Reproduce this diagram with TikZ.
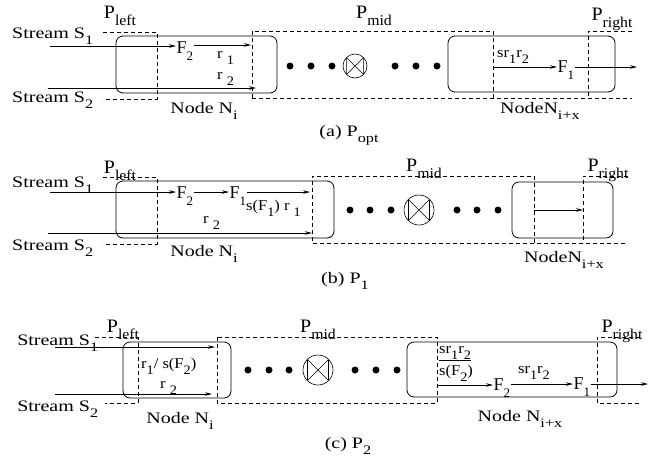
\documentclass[tikz,border=0pt]{standalone}
\usepackage{fontspec}
\setmainfont{Liberation Serif}
\usepackage{tikz}
\usetikzlibrary{arrows.meta, fit, calc}
\newcommand{\subx}[2][13]{\raisebox{-0.4em}{\fontsize{#1}{#1}\selectfont #2}}
\tikzset{
  txt/.style={font=\fontsize{16}{18}\selectfont, xscale=1.25, inner sep=0pt},
  plabel/.style={font=\fontsize{19}{21}\selectfont, xscale=1.05, inner sep=0pt},
  lbl/.style={font=\fontsize{15}{17}\selectfont, xscale=1.1, inner sep=0pt},
  fvar/.style={font=\fontsize{18}{20}\selectfont, inner sep=0.5pt},
  nodebox/.style={draw, rounded corners=7pt, line width=0.8pt, inner sep=0pt},
  region/.style={line width=0.6pt, dash pattern=on 4pt off 3pt},
  arrow/.style={-{Stealth[length=7pt,width=3.5pt]}, line width=0.6pt},
  dot/.style={circle, fill, inner sep=0pt, minimum size=7pt},
  joinop/.style={circle, draw, line width=0.6pt, inner sep=0pt,
    path picture={
      \draw[line width=0.6pt]
        ($(path picture bounding box.north west)!0.15!(path picture bounding box.south east)$)
        -- ($(path picture bounding box.north west)!0.85!(path picture bounding box.south east)$)
        -- ($(path picture bounding box.south west)!0.85!(path picture bounding box.north east)$)
        -- ($(path picture bounding box.south west)!0.15!(path picture bounding box.north east)$)
        -- cycle;
    }},
}

\begin{document}
\begin{tikzpicture}[x=1pt, y=-1pt]
  \useasboundingbox (0,0) rectangle (663,464);

  % (a) P_opt
  \node[nodebox, fit={(116,36) (277,93)}] (a-ni) {};
  \node[nodebox, fit={(448,36) (615,92)}] (a-nx) {};
  \draw[region] (103,32) -- (157,32) -- (157,99) -- (103,99);
  \draw[region] (252,98) -- (252,31) -- (493,31) -- (493,98);
  \draw[region] (252,98) -- (632,98);
  \draw[region] (632,31) -- (588,31) -- (588,98);

  \foreach \x in {290,311,332,395,416,437}
    \node[dot] (a-dot-\x) at (\x,66) {};
  \node[joinop, minimum size=24pt] (a-join) at (355,66) {};

  \node[txt, anchor=base west] (a-s1) at (12,38) {Stream S\subx{1}};
  \node[txt, anchor=base west] (a-s2) at (12,102) {Stream S\subx{2}};
  \node[plabel, anchor=base] (a-pl) at (120,18) {P\subx[15]{left}};
  \node[plabel, anchor=base] (a-pm) at (374,18) {P\subx[15]{mid}};
  \node[plabel, anchor=base] (a-pr) at (612,20) {P\subx[15]{right}};
  \node[txt, anchor=base] (a-nit) at (204,113) {Node N\subx{i}};
  \node[txt, anchor=base] (a-nxt) at (540,113) {NodeN\subx{i+x}};
  \node[txt, anchor=base] (a-cap) at (349,136) {(a) P\subx{opt}};

  \node[fvar, anchor=base west] (a-f2) at (176,53) {F\subx{2}};
  \node[lbl, anchor=base west] (a-r1) at (217,58) {r \subx{1}};
  \node[lbl, anchor=base west] (a-r2) at (217,79) {r \subx{2}};
  \node[lbl, anchor=base west] (a-sr) at (497,57) {sr\subx{1}r\subx{2}};
  \node[fvar, anchor=base west] (a-f1) at (557,72) {F\subx{1}};

  \coordinate (a-in1) at (50,46);
  \coordinate (a-in2) at (48,88);
  \coordinate (a-end1) at (251,45);
  \coordinate (a-end2) at (256,88);
  \coordinate (a-mid) at (493,67);
  \coordinate (a-out) at (637,67);
  \draw[arrow] (a-in1) -- (a-in1 -| a-f2.west);
  \draw[arrow] (a-f2.east |- a-end1) -- (a-end1);
  \draw[arrow] (a-in2) -- (a-end2);
  \draw[arrow] (a-mid) -- (a-mid -| a-f1.west);
  \draw[arrow] (a-f1.east |- a-out) -- (a-out);

  % (b) P_1
  \node[nodebox, fit={(116,181) (334,238)}] (b-ni) {};
  \node[nodebox, fit={(512,182) (613,238)}] (b-nx) {};
  \draw[region] (103,177) -- (157,177) -- (157,244) -- (103,244);
  \draw[region] (534,243) -- (534,176) -- (312,176) -- (312,243) -- (628,243);
  \draw[region] (628,176) -- (583,176) -- (583,243);

  \foreach \x in {350,370,391,457,477,498}
    \node[dot] (b-dot-\x) at (\x,210) {};
  \node[joinop, minimum size=30pt] (b-join) at (419,210) {};

  \node[txt, anchor=base west] (b-s1) at (12,187) {Stream S\subx{1}};
  \node[txt, anchor=base west] (b-s2) at (12,250) {Stream S\subx{2}};
  \node[plabel, anchor=base] (b-pl) at (120,173) {P\subx[15]{left}};
  \node[plabel, anchor=base] (b-pm) at (424,171) {P\subx[15]{mid}};
  \node[plabel, anchor=base] (b-pr) at (608,171) {P\subx[15]{right}};
  \node[txt, anchor=base] (b-nit) at (204,256) {Node N\subx{i}};
  \node[txt, anchor=base] (b-nxt) at (564,262) {NodeN\subx{i+x}};
  \node[txt, anchor=base] (b-cap) at (345,283) {(b) P\subx{1}};

  \node[fvar, anchor=base west] (b-f2) at (176,198) {F\subx{2}};
  \node[fvar, anchor=base west] (b-f1) at (229,198) {F\subx{1}};
  \node[lbl, anchor=base west] (b-sf) at (246,210) {s(F\subx{1}) r \subx{1}};
  \node[lbl, anchor=base west] (b-r2) at (203,223) {r \subx{2}};

  \coordinate (b-in1) at (50,192);
  \coordinate (b-in2) at (48,233);
  \coordinate (b-end1) at (310,192);
  \coordinate (b-end2) at (312,233);
  \coordinate (b-mid) at (534,210);
  \coordinate (b-right) at (583,210);
  \draw[arrow] (b-in1) -- (b-in1 -| b-f2.west);
  \draw[arrow] (b-f2.east |- b-in1) -- (b-in1 -| b-f1.west);
  \draw[arrow] (b-f1.east |- b-end1) -- (b-end1);
  \draw[arrow] (b-in2) -- (b-end2);
  \draw[arrow] (b-mid) -- (b-right);

  % (c) P_2
  \node[nodebox, fit={(123,342) (231,398)}] (c-ni) {};
  \node[nodebox, fit={(407,342) (617,397)}] (c-nx) {};
  \draw[region] (95,337) -- (138,337) -- (138,403) -- (105,403);
  \draw[region] (217,337) rectangle (437,403);
  \draw[region] (640,337) -- (597,337) -- (597,403) -- (640,403);

  \foreach \x in {248,269,289,355,376,397}
    \node[dot] (c-dot-\x) at (\x,370) {};
  \node[joinop, minimum size=30pt] (c-join) at (318,370) {};

  \node[txt, anchor=base west] (c-s1) at (17,345) {Stream S\subx{1}};
  \node[txt, anchor=base west] (c-s2) at (17,411) {Stream S\subx{2}};
  \node[plabel, anchor=base] (c-pl) at (123,332) {P\subx[15]{left}};
  \node[plabel, anchor=base] (c-pm) at (318,332) {P\subx[15]{mid}};
  \node[plabel, anchor=base] (c-pr) at (622,332) {P\subx[15]{right}};
  \node[txt, anchor=base] (c-nit) at (180,423) {Node N\subx{i}};
  \node[txt, anchor=base] (c-nxt) at (520,421) {Node N\subx{i+x}};
  \node[txt, anchor=base] (c-cap) at (348,448) {(c) P\subx{2}};

  \node[lbl, anchor=base west] (c-r1) at (141,368) {r\subx{1}/ s(F\subx{2})};
  \node[lbl, anchor=base west] (c-r2) at (160,388) {r \subx{2}};
  \node[lbl, anchor=base west] (c-num) at (439,353) {\underline{sr\subx{1}r\subx{2}}};
  \node[lbl, anchor=base west] (c-den) at (439,375) {s(F\subx{2})};
  \node[fvar, anchor=base west] (c-f2) at (493,390) {F\subx{2}};
  \node[fvar, anchor=base west] (c-f1) at (573,389) {F\subx{1}};
  \node[lbl, anchor=base] (c-sr) at (534,373) {sr\subx{1}r\subx{2}};

  \coordinate (c-in1) at (55,347);
  \coordinate (c-in2) at (55,394);
  \coordinate (c-end1) at (215,347);
  \coordinate (c-end2) at (212,394);
  \coordinate (c-mid) at (437,385);
  \coordinate (c-out) at (648,384);
  \draw[arrow] (c-in1) -- (c-end1);
  \draw[arrow] (c-in2) -- (c-end2);
  \draw[arrow] (c-mid) -- (c-mid -| c-f2.west);
  \draw[arrow] (c-f2.east |- c-out) -- (c-out -| c-f1.west);
  \draw[arrow] (c-f1.east |- c-out) -- (c-out);

\end{tikzpicture}
\end{document}
